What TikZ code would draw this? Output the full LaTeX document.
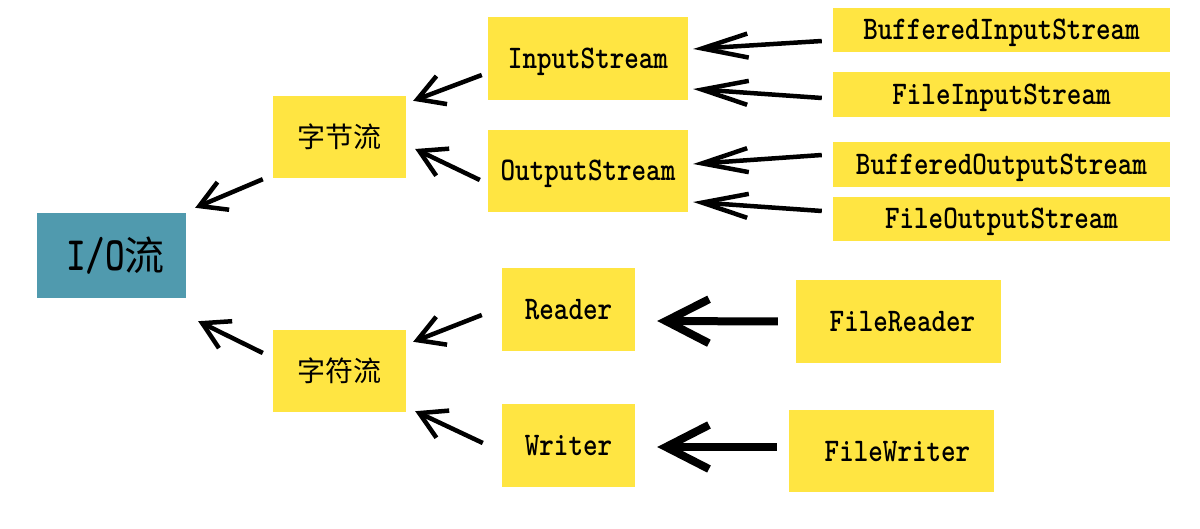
\documentclass[tikz,border=0pt]{standalone}
\usepackage{fontspec}
\usetikzlibrary{arrows.meta}
\newfontfamily\cjk{Noto Sans CJK SC}
\newfontfamily\codefont{lmmonolt10-bold.otf}[FakeStretch=0.84]
\newfontfamily\iofont{lmmonolt10-bold.otf}[FakeStretch=0.78]
\definecolor{boxyellow}{RGB}{255,229,66}
\definecolor{ioteal}{RGB}{80,154,174}
\begin{document}
\begin{tikzpicture}[x=1pt,y=-1pt,
  ybox/.style={fill=boxyellow, draw=none, inner sep=0pt, align=center},
  cjktext/.style={font=\cjk\fontsize{28}{32}\selectfont},
  codetext/.style={font=\codefont\fontsize{33}{38}\selectfont, text height=24pt, text depth=4pt},
  diagarr/.style={draw=black, line width=4.5pt, -{Straight Barb[length=26pt, width=30pt]}},
  longarr/.style={draw=black, line width=4.5pt, -{Straight Barb[length=46pt, width=24pt]}},
  thickarr/.style={draw=black, line width=8pt, -{Straight Barb[length=43pt, width=44pt]}}]
\useasboundingbox[fill=white] (0,0) rectangle (1200,529);
% nodes
\node[fill=ioteal, inner sep=0pt, minimum width=149pt, minimum height=85pt] (io) at (111.5,255.5)
  {\hspace*{8pt}{\iofont\fontsize{48}{52}\selectfont I/O}{\cjk\fontsize{40}{44}\selectfont 流}};
\node[ybox, cjktext, minimum width=133pt, minimum height=82pt] (zjl) at (339.5,137) {字节流};
\node[ybox, cjktext, minimum width=133pt, minimum height=82pt] (zfl) at (339.5,371) {字符流};
\node[ybox, codetext, minimum width=200pt, minimum height=83pt] (is) at (588,58.5) {InputStream};
\node[ybox, codetext, minimum width=200pt, minimum height=82pt] (os) at (588,171) {OutputStream};
\node[ybox, codetext, minimum width=337pt, minimum height=44pt] (bis) at (1001.5,30) {BufferedInputStream};
\node[ybox, codetext, minimum width=337pt, minimum height=45pt] (fis) at (1001.5,94.5) {FileInputStream};
\node[ybox, codetext, minimum width=337pt, minimum height=45pt] (bos) at (1001.5,164.5) {BufferedOutputStream};
\node[ybox, codetext, minimum width=337pt, minimum height=44pt] (fos) at (1001.5,219) {FileOutputStream};
\node[ybox, codetext, minimum width=133pt, minimum height=83pt] (rd) at (568.5,309.5) {Reader};
\node[ybox, codetext, minimum width=133pt, minimum height=83pt] (wr) at (568.5,445.5) {Writer};
\node[ybox, codetext, minimum width=205pt, minimum height=83pt] (frd) at (898.5,321.5) {\hspace*{8pt}FileReader};
\node[ybox, codetext, minimum width=205pt, minimum height=82pt] (fwr) at (891.5,451) {\hspace*{12pt}FileWriter};
% connectors
\draw[diagarr] ([shift={(-10,1)}]zjl.south west) -- ([shift={(9,-5)}]io.north east);
\draw[diagarr] ([shift={(-10,-18)}]zfl.west) -- ([shift={(12,23)}]io.south east);
\draw[diagarr] ([shift={(-6,16.5)}]is.west) -- ([shift={(7,5)}]zjl.north east);
\draw[diagarr] ([shift={(-8,9)}]os.west) -- ([shift={(9,12)}]zjl.east);
\draw[diagarr] ([shift={(-20,5.5)}]rd.west) -- ([shift={(7,12)}]zfl.north east);
\draw[diagarr] ([shift={(-19,-2.5)}]wr.west) -- ([shift={(9,-1)}]zfl.south east);
\draw[longarr] ([shift={(-11,11)}]bis.west) -- ([shift={(5,-9.5)}]is.east);
\draw[longarr] ([shift={(-11,3.5)}]fis.west) -- ([shift={(5,30.5)}]is.east);
\draw[longarr] ([shift={(-11,-9.5)}]bos.west) -- ([shift={(5,-7)}]os.east);
\draw[longarr] ([shift={(-11,-8)}]fos.west) -- ([shift={(5,31)}]os.east);
\draw[thickarr] ([shift={(-18,0)}]frd.west) -- ([shift={(22,11.5)}]rd.east);
\draw[thickarr] ([shift={(-12,-4)}]fwr.west) -- ([shift={(22,1.5)}]wr.east);
\end{tikzpicture}
\end{document}
